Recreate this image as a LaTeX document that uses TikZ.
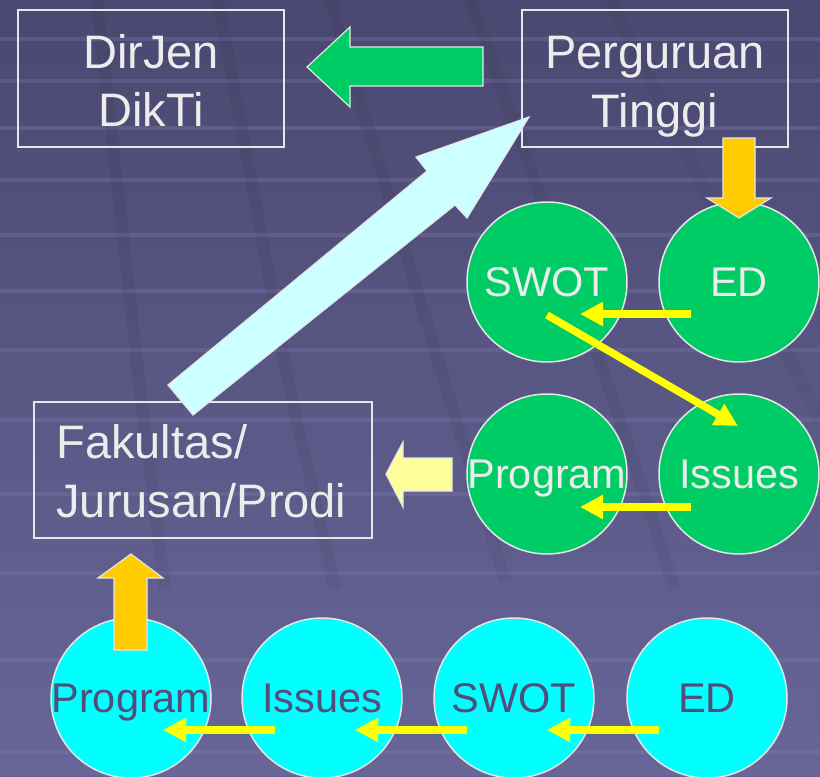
\documentclass[tikz,border=0pt]{standalone}
\usepackage{fontspec}
\setmainfont{Liberation Sans}
\usetikzlibrary{arrows.meta,calc}
\definecolor{bgtop}{RGB}{74,72,112}
\definecolor{bgbot}{RGB}{104,102,152}
\definecolor{stripec}{RGB}{130,128,180}
\definecolor{linegray}{RGB}{230,230,230}
\definecolor{txtlight}{RGB}{236,236,236}
\definecolor{txtdark}{RGB}{84,76,122}
\definecolor{cgreen}{RGB}{0,204,102}
\definecolor{ccyan}{RGB}{0,255,255}
\definecolor{lcyan}{RGB}{204,255,255}
\definecolor{lyellow}{RGB}{255,255,153}
\definecolor{corange}{RGB}{255,204,0}
\definecolor{cyellow}{RGB}{255,255,0}
\begin{document}
\begin{tikzpicture}[x=1pt,y=-1pt,
  box/.style={draw=linegray, line width=1.5pt, inner sep=0pt},
  boxtext/.style={text=txtlight, font=\fontsize{47pt}{56pt}\selectfont, inner sep=0pt},
  circbase/.style={circle, draw=linegray, line width=1.5pt, minimum size=160pt, inner sep=0pt,
     font=\fontsize{41.5pt}{50pt}\selectfont, text height=29.7pt, text depth=0pt},
  gc/.style={circbase, fill=cgreen, text=txtlight},
  cc/.style={circbase, fill=ccyan, text=txtdark},
  blockar/.style={draw=linegray, line width=1.2pt, line join=miter},
  yarrow/.style={draw=cyellow, line width=7.5pt, -{Triangle[length=23pt,width=23pt]}},
  bgline/.style={draw=black, opacity=0.05, line width=12pt}
]
\useasboundingbox (0,0) rectangle (820,777);
% background
\shade[top color=bgtop, bottom color=bgbot] (0,0) rectangle (820,777);
\foreach \yy in {39,81,128,180,235,291,350,420,494,573,660,752}
  \fill[stripec, opacity=0.28] (0,\yy-1.8) rectangle (820,\yy+1.8);
\draw[bgline] (97,0) -- (140,390) -- (165,590);
\draw[bgline] (218,0) -- (290,390) -- (335,590);
\draw[bgline] (330,0) -- (390,200) -- (447,390) -- (505,580);
\draw[bgline] (470,0) -- (610,390) -- (675,590);
\draw[bgline, opacity=0.03] (610,0) -- (820,420);

% boxes
\node[box, minimum width=266pt, minimum height=137pt] (dirjen) at (151,78.5) {};
\node[boxtext, anchor=base] (dirjen1) at ($(dirjen.center)+(0,-10.5)$) {DirJen};
\node[boxtext, anchor=base] (dirjen2) at ($(dirjen.center)+(0,47.5)$) {DikTi};

\node[box, minimum width=266pt, minimum height=137pt] (pt) at (655,78.5) {};
\node[boxtext, anchor=base] (pt1) at ($(pt.center)+(0,-10.5)$) {Perguruan};
\node[boxtext, anchor=base] (pt2) at ($(pt.center)+(0,48.5)$) {Tinggi};

\node[box, minimum width=338pt, minimum height=136pt] (fak) at (203,470) {};
\node[boxtext, anchor=base west] (fak1) at ($(fak.west)+(23,-12)$) {Fakultas/};
\node[boxtext, anchor=base west] (fak2) at ($(fak.west)+(23,47)$) {Jurusan/Prodi};

% green circles
\node[gc] (swotg) at (547,282) {\makebox[0pt]{SWOT}};
\node[gc] (edg)   at (739,282) {\makebox[0pt]{ED}};
\node[gc] (progg) at (547,474) {\makebox[0pt]{Program}};
\node[gc] (issg)  at (739,474) {\makebox[0pt]{Issues}};

% cyan circles
\node[cc] (progc) at (131,698) {\makebox[0pt]{Program}};
\node[cc] (issc)  at (322,698) {\makebox[0pt]{Issues}};
\node[cc] (swotc) at (514,698) {\makebox[0pt]{SWOT}};
\node[cc] (edc)   at (707,698) {\makebox[0pt]{ED}};

% yellow thin arrows
\draw[yarrow] ($(edg.center)+(-48,32)$) -- ($(swotg.center)+(33,32)$);
\draw[yarrow] ($(swotg.center)+(0,33)$) -- ($(issg.center)+(-1,-48)$);
\draw[yarrow] ($(issg.center)+(-48,33)$) -- ($(progg.center)+(33,33)$);
\draw[yarrow] ($(edc.center)+(-48,32)$) -- ($(swotc.center)+(33,32)$);
\draw[yarrow] ($(swotc.center)+(-47,32)$) -- ($(issc.center)+(33,32)$);
\draw[yarrow] ($(issc.center)+(-47,32)$) -- ($(progc.center)+(32,32)$);

% block arrows
% Perguruan Tinggi -> DirJen DikTi (green, pointing left)
\filldraw[blockar, fill=cgreen] (483,47) -- (350,47) -- (350,27) -- (307,67) -- (350,107) -- (350,86) -- (483,86) -- cycle;
% Fakultas -> Perguruan Tinggi (light cyan, diagonal)
\filldraw[blockar, fill=lcyan] (168,385) -- (427,171) -- (416,157) -- (529,117) -- (467,218) -- (455,205) -- (193,415) -- cycle;
% Program (green) -> Fakultas (light yellow, pointing left)
\filldraw[blockar, fill=lyellow] (452,458) -- (403,458) -- (403,442) -- (386,474) -- (403,507) -- (403,491) -- (452,491) -- cycle;
% Perguruan Tinggi -> ED (orange, pointing down)
\filldraw[blockar, fill=corange] (723,138) -- (755,138) -- (755,198) -- (771,198) -- (739,218) -- (707,198) -- (723,198) -- cycle;
% Program (cyan) -> Fakultas (orange, pointing up)
\filldraw[blockar, fill=corange] (114,650) -- (114,578) -- (98,578) -- (131,554) -- (163,578) -- (147,578) -- (147,650) -- cycle;
\end{tikzpicture}
\end{document}
